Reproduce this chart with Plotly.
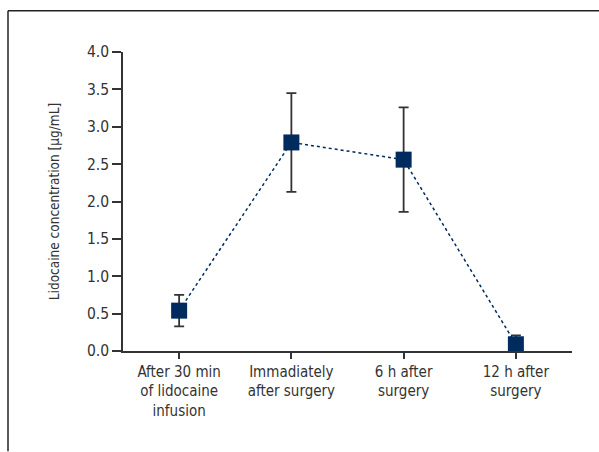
import plotly.graph_objects as go

# Lidocaine plasma concentration at four sampling times (mean ± SD)
time_points = [
    "After 30 min<br>of lidocaine<br>infusion",
    "Immadiately<br>after surgery",
    "6 h after<br>surgery",
    "12 h after<br>surgery",
]
concentration = [0.54, 2.79, 2.56, 0.09]
sd = [0.21, 0.66, 0.70, 0.12]
y_ticks = [0.0, 0.5, 1.0, 1.5, 2.0, 2.5, 3.0, 3.5, 4.0]

FONT = "DejaVu Sans Condensed, Liberation Sans Narrow, sans-serif"
NAVY = "#002b5f"
INK = "#333333"

fig = go.Figure()
fig.add_trace(go.Scatter(
    x=list(range(len(time_points))),
    y=concentration,
    mode="lines+markers",
    line=dict(color=NAVY, width=1.5, dash="dot"),
    marker=dict(symbol="square", size=16, color=NAVY),
    error_y=dict(type="data", array=sd, visible=True,
                 color=INK, thickness=1.8, width=5),
    cliponaxis=False,
    showlegend=False,
))

fig.update_xaxes(
    range=[-0.5, 3.5],
    tickvals=list(range(len(time_points))),
    ticktext=time_points,
    showgrid=False, zeroline=False,
    showline=True, linecolor=INK, linewidth=1.5,
    ticks="outside", ticklen=6, tickwidth=1.5, tickcolor=INK,
    tickfont=dict(family=FONT, size=15, color=INK),
)
fig.update_yaxes(
    range=[0, 4],
    tickvals=y_ticks,
    ticktext=[f"{v:.1f}" for v in y_ticks],
    showgrid=False, zeroline=False,
    showline=True, linecolor=INK, linewidth=1.5,
    ticks="outside", ticklen=9, tickwidth=1.5, tickcolor=INK,
    tickfont=dict(family=FONT, size=15.5, color=INK),
    title=dict(text="Lidocaine concentration [µg/mL]",
               font=dict(family=FONT, size=13.5, color=INK),
               standoff=24),
)

# Frame lines along the top and left edges of the figure
pw = 599 - 123 - 27
ph = 452 - 51.5 - 100.5
x_left = (8 - 123) / pw
y_top = 1 + (51.5 - 10) / ph
frame = dict(color="#222222", width=1.5)
fig.add_shape(type="line", xref="paper", yref="paper",
              x0=x_left, x1=(599 - 123) / pw, y0=y_top, y1=y_top, line=frame)
fig.add_shape(type="line", xref="paper", yref="paper",
              x0=x_left, x1=x_left, y0=y_top, y1=-(452 - 351.5) / ph, line=frame)

fig.update_layout(
    width=599, height=452,
    margin=dict(l=123, r=27, t=51.5, b=100.5),
    paper_bgcolor="white", plot_bgcolor="white",
    font=dict(family=FONT, color=INK),
)

fig.write_html("out.html")
